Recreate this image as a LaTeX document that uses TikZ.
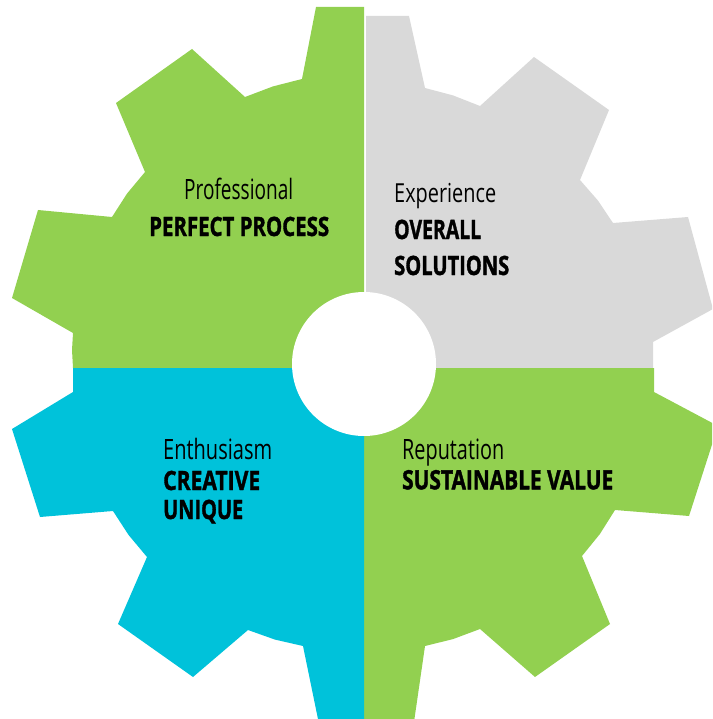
\documentclass[tikz,border=0pt]{standalone}
\usepackage{fontspec}
\setmainfont{Open Sans}[BoldFeatures={FakeBold=1.6}]
\usepackage{graphicx}
\definecolor{gearGreen}{HTML}{92D050}
\definecolor{gearCyan}{HTML}{00C2DA}
\definecolor{gearGray}{HTML}{D9D9D9}
\makeatletter
\newsavebox{\cfbox}
\newdimen\cfwd
\newdimen\cfht
\newcommand{\capfit}[3]{%
  \sbox{\cfbox}{#3}%
  \cfwd=\wd\cfbox
  \cfht=\fontcharht\font`H\relax
  \edef\cfw{\strip@pt\cfwd}\edef\cfh{\strip@pt\cfht}%
  \pgfmathsetmacro\cfx{#1/\cfw}%
  \pgfmathsetmacro\cfy{#2/\cfh}%
  \scalebox{\cfx}[\cfy]{\usebox{\cfbox}}}
\makeatother
\tikzset{
  lblreg/.style={inner sep=0pt, anchor=base west, text=black, font=\fontsize{24}{28}\selectfont},
  lblbold/.style={inner sep=0pt, anchor=base west, text=black, font=\fontsize{24}{28}\selectfont\bfseries}
}
\begin{document}
\begin{tikzpicture}[x=1pt,y=-1pt]
\useasboundingbox (0,0) rectangle (712,719);
\clip (0,0) rectangle (712,719);
% top-left quadrant (green)
\fill[gearGreen] (364,7) -- (316,7) -- (302,79) -- (273,86.4) -- (245,97) -- (192,49) -- (116,103) -- (145,172) -- (127.1,193.5) -- (112,217) -- (38,210) -- (12,298) -- (73,333) -- (72,350) -- (73,368) -- (364,368) -- cycle;
% top-right quadrant (gray)
\fill[gearGray] (366,16) -- (409,16) -- (425,88) -- (453,95.4) -- (480,106) -- (534,57) -- (609,110) -- (580,180) -- (597.9,200.5) -- (613,223) -- (688,217) -- (713,309) -- (653,342) -- (653,368) -- (366,368) -- cycle;
% bottom-right quadrant (green)
\fill[gearGreen] (364,368) -- (654,368) -- (654,392) -- (718,426) -- (689,516) -- (615,510) -- (599.9,534) -- (582,556) -- (610,624) -- (535,677) -- (480,629) -- (453,639.1) -- (425,646) -- (414,722) -- (364,722) -- cycle;
% bottom-left quadrant (cyan)
\fill[gearCyan] (73,368) -- (73,392) -- (12,429) -- (40,517) -- (113,511) -- (128.6,535) -- (147,557) -- (118,624) -- (193,677) -- (248,630) -- (275,639.6) -- (303,646) -- (318.6,722) -- (364,722) -- (364,368) -- cycle;
% centre hole
\fill[white] (364,364) circle[radius=72pt];
\begin{scope}
  \clip (365,0) rectangle (712,368);
  \fill[white] (366,370) circle[radius=70pt];
\end{scope}
% labels
\node[lblreg] (prof) at (184,200) {\capfit{109}{20}{Professional}};
\node[lblbold] (perf) at (149,236) {\capfit{180}{19}{PERFECT PROCESS}};
\node[lblreg] (exper) at (394,202.7) {\capfit{102}{18.7}{Experience}};
\node[lblbold] (over) at (394,239) {\capfit{87}{19}{OVERALL}};
\node[lblbold] (solu) at (394,275) {\capfit{115}{19}{SOLUTIONS}};
\node[lblreg] (enth) at (163,459) {\capfit{109}{20}{Enthusiasm}};
\node[lblbold] (crea) at (163,490) {\capfit{97}{19}{CREATIVE}};
\node[lblbold] (uniq) at (163,519) {\capfit{80}{19}{UNIQUE}};
\node[lblreg] (repu) at (402,459.3) {\capfit{102}{20}{Reputation}};
\node[lblbold] (sust) at (402,489.3) {\capfit{211}{19}{SUSTAINABLE VALUE}};
\end{tikzpicture}
\end{document}
